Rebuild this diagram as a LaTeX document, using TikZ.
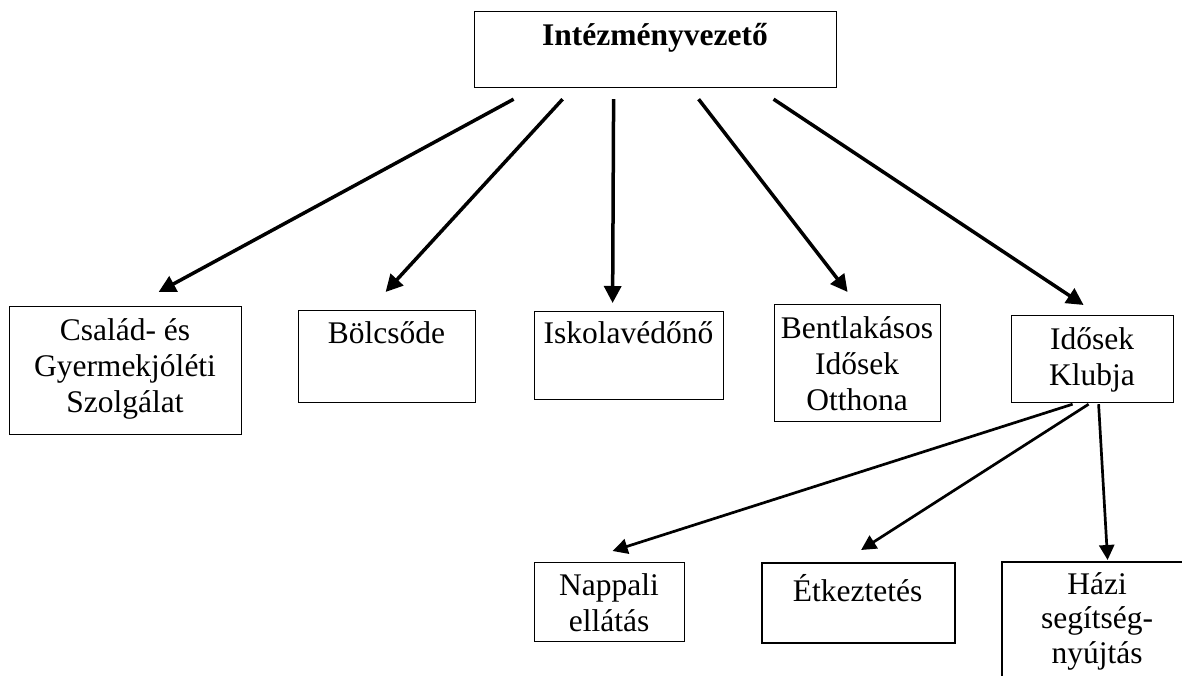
\documentclass[tikz,border=0pt]{standalone}
\usepackage{fontspec}
\setmainfont{Liberation Serif}
\usetikzlibrary{arrows.meta,calc}
\begin{document}
\begin{tikzpicture}[x=1pt,y=-1pt,
  box/.style={draw, line width=1.2pt, inner sep=0pt, anchor=north west},
  lbl/.style={font=\fontsize{31.5}{36}\selectfont, align=center, inner sep=0pt},
  bigarr/.style={line width=3.5pt, -{Triangle[length=17pt,width=17pt]}},
  smallarr/.style={line width=2.7pt, -{Triangle[length=15pt,width=15pt]}}]
\useasboundingbox (0,0) rectangle (1182,676);
% boxes
\node[box, minimum width=362pt, minimum height=76pt] (top) at (474,11) {};
\node[box, minimum width=232pt, minimum height=128pt] (csal) at (9,306) {};
\node[box, minimum width=177pt, minimum height=92pt] (bol) at (298,310) {};
\node[box, minimum width=189pt, minimum height=88pt] (isk) at (534,311) {};
\node[box, minimum width=166pt, minimum height=117pt] (bent) at (774,304) {};
\node[box, minimum width=162pt, minimum height=87pt] (klub) at (1011,315) {};
\node[box, minimum width=150pt, minimum height=79pt] (napp) at (534,562) {};
\node[box, line width=2.2pt, minimum width=193pt, minimum height=80pt] (etk) at (761,562) {};
\node[box, draw=none, minimum width=190pt, minimum height=130pt] (hazi) at (1002,562) {};
\draw[line width=1.2pt] (hazi.south west) -- (hazi.north west) -- (1182,562);
% texts
\node[lbl, anchor=base, font=\fontsize{31.5}{36}\selectfont\bfseries] (topt) at (655,46) {Intézményvezető};
\node[lbl, anchor=north] (csalt) at (125,314.8) {\strut Család- és\\Gyermekjóléti\\Szolgálat};
\node[lbl, anchor=base] (bolt) at (386.5,343) {Bölcsőde};
\node[lbl, anchor=base] (iskt) at (628.5,343) {Iskolavédőnő};
\node[lbl, anchor=north] (bentt) at (857,312.8) {\strut Bentlakásos\\Idősek\\Otthona};
\node[lbl, anchor=north] (klubt) at (1092,323.8) {\strut Idősek\\Klubja};
\node[lbl, anchor=north] (nappt) at (609,569.8) {\strut Nappali\\ellátás};
\node[lbl, anchor=base] (etkt) at (857.5,601) {Étkeztetés};
\node[lbl, anchor=north, font=\fontsize{31.5}{34.5}\selectfont] (hazit) at (1097,569.8) {\strut Házi\\segítség-\\nyújtás};
% connectors
\draw[bigarr] ($(top.south)+(-142,11)$) -- ($(csal.north)+(33,-14)$);
\draw[bigarr] ($(top.south)+(-93,11)$) -- ($(bol.north)+(-1.5,-18)$);
\draw[bigarr] ($(top.south)+(-42,11)$) -- ($(isk.north)+(-16.5,-8)$);
\draw[bigarr] ($(top.south)+(43,11)$) -- ($(bent.north)+(-10,-12)$);
\draw[bigarr] ($(top.south)+(118,11)$) -- ($(klub.north)+(-9,-10)$);
\draw[smallarr] ($(klub.south)+(-20,1)$) -- ($(napp.north)+(3,-11)$);
\draw[smallarr] ($(klub.south)+(-4,1)$) -- ($(etk.north)+(2.5,-12)$);
\draw[smallarr] ($(klub.south)+(6,1)$) -- ($(hazi.north)+(10,-2)$);
\end{tikzpicture}
\end{document}
